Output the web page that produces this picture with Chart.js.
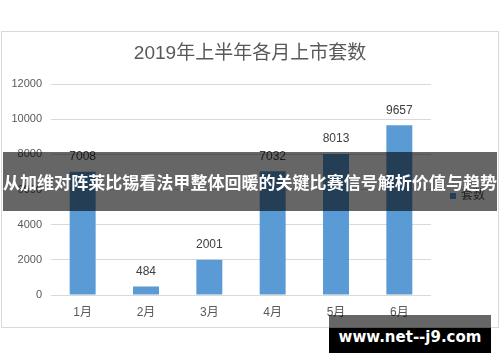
<!DOCTYPE html>
<html>
<head>
<meta charset="utf-8">
<script src="https://cdn.jsdelivr.net/npm/chart.js@4"></script>
<style>
  html, body { margin: 0; padding: 0; background: #fff; }
  #wrap { position: relative; width: 500px; height: 362px; overflow: hidden; }
  #frame { position: absolute; left: 1px; top: 31px; width: 496px; height: 295px; border: 1px solid #d9d9d9; }
  #chart { position: absolute; left: 0; top: 0; }
  #banner { position: absolute; left: 3px; top: 152px; width: 494px; height: 59px; background: rgba(0,0,0,0.6);
    overflow: hidden; }
  #banner span { position: absolute; left: 0; top: 0; white-space: nowrap; color: #fff;
    font: bold 17px "Noto Sans CJK SC", sans-serif; line-height: 59px; transform-origin: 0 50%; }
  #mark-top { position: absolute; left: 329px; top: 315px; width: 162px; height: 13px; background: rgba(0,0,0,0.6); }
  #mark { position: absolute; left: 329px; top: 328px; width: 162px; height: 25px; background: #000; }
  #mark-text { position: absolute; left: 329px; top: 315px; width: 162px; height: 44px; text-align: center;
    color: #fff; font: bold 15px "DejaVu Sans", sans-serif; line-height: 44px; }
</style>
</head>
<body>
<div id="wrap">
  <div id="frame"></div>
  <canvas id="chart" width="500" height="362"></canvas>
  <div id="banner"><span id="banner-text">从加维对阵莱比锡看法甲整体回暖的关键比赛信号解析价值与趋势</span></div>
  <div id="mark-top"></div>
  <div id="mark"></div>
  <div id="mark-text">www.net--j9.com</div>
</div>
<script>
var months = ['1月', '2月', '3月', '4月', '5月', '6月'];
var counts = [7008, 484, 2001, 7032, 8013, 9657];
var yTicks = [0, 2000, 4000, 6000, 8000, 10000, 12000];
var seriesName = '套数';
var chartTitle = '2019年上半年各月上市套数';

var fontStack = '"Liberation Sans", "Noto Sans CJK SC", sans-serif';

// squeeze the banner line so it fills the strip edge to edge
var bt = document.getElementById('banner-text');
bt.style.transform = 'scaleX(' + (494 / bt.getBoundingClientRect().width) + ')';

// title, numbers over the bars and the small legend on the right
var extras = {
    id: 'extras',
    afterDatasetsDraw: function(chart) {
        var c = chart.ctx;
        var meta = chart.getDatasetMeta(0);
        var ds = chart.data.datasets[0];
        c.save();
        c.textBaseline = 'middle';
        c.textAlign = 'center';

        c.font = '19px ' + fontStack;
        c.fillStyle = '#595959';
        c.fillText(chartTitle, 250, 54);

        c.font = '12px ' + fontStack;
        c.fillStyle = '#404040';
        meta.data.forEach(function(bar, i) {
            c.fillText(String(ds.data[i]), bar.x, bar.y - 15);
        });

        var lx = chart.chartArea.right + 19;
        var ly = 196;
        c.fillStyle = ds.backgroundColor;
        c.fillRect(lx, ly - 3, 6, 6);
        c.fillStyle = '#595959';
        c.textAlign = 'left';
        c.fillText(ds.label, lx + 11, ly);
        c.restore();
    }
};

new Chart(document.getElementById('chart'), {
    type: 'bar',
    data: {
        labels: months,
        datasets: [{
            label: seriesName,
            data: counts,
            backgroundColor: '#5b9bd5',
            categoryPercentage: 1,
            barPercentage: 0.41
        }]
    },
    options: {
        responsive: false,
        animation: false,
        layout: { padding: { left: 4, top: 84, right: 69, bottom: 37 } },
        plugins: {
            title: { display: false },
            legend: { display: false },
            tooltip: { enabled: false }
        },
        scales: {
            x: {
                grid: { display: false },
                border: { display: false },
                ticks: { color: '#595959', font: { size: 12, family: fontStack }, padding: 2 },
                afterFit: function(s) { s.height = 30; }
            },
            y: {
                min: 0,
                max: 12000,
                afterBuildTicks: function(s) { s.ticks = yTicks.map(function(v) { return { value: v }; }); },
                grid: { color: '#d9d9d9', drawTicks: false },
                border: { display: false },
                ticks: {
                    color: '#595959',
                    font: { size: 11, family: fontStack },
                    padding: 9,
                    callback: function(v) { return String(v); }
                },
                afterFit: function(s) { s.width = 47; }
            }
        }
    },
    plugins: [extras]
});
</script>
</body>
</html>
